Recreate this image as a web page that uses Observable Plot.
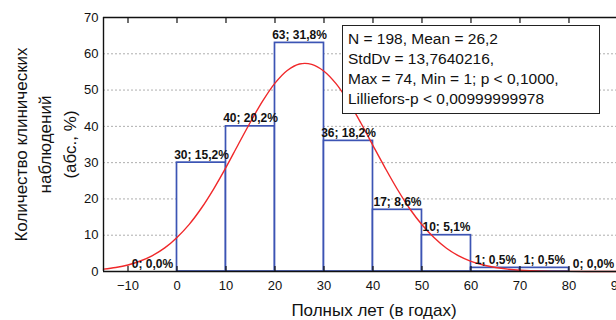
<!DOCTYPE html>
<html>
<head>
<meta charset="utf-8">
<script src="https://cdn.jsdelivr.net/npm/d3@7"></script>
<script src="https://cdn.jsdelivr.net/npm/@observablehq/plot@0.6"></script>
<style>
  html, body { margin: 0; padding: 0; background: #fff; }
  #wrap { position: relative; width: 616px; height: 320px; overflow: hidden; font-family: "Liberation Sans", Arial, sans-serif; }
  #stats { position: absolute; left: 342px; top: 25px; width: 251px; height: 84px; border: 1.5px solid #222; background: #fff;
           font-size: 15.5px; line-height: 20px; padding: 3px 0 0 5px; box-sizing: content-box; color: #111; white-space: nowrap; }
</style>
</head>
<body>
<div id="wrap"></div>
<script>
const binStart = [-10, 0, 10, 20, 30, 40, 50, 60, 70, 80];
const binEnd   = [0, 10, 20, 30, 40, 50, 60, 70, 80, 90];
const counts   = [0, 30, 40, 63, 36, 17, 10, 1, 1, 0];
const barLabels = ["0; 0,0%", "30; 15,2%", "40; 20,2%", "63; 31,8%", "36; 18,2%", "17; 8,6%", "10; 5,1%", "1; 0,5%", "1; 0,5%", "0; 0,0%"];

// fitted normal curve
const curveX = [-15, -12.5, -10, -7.5, -5, -2.5, 0, 2.5, 5, 7.5, 10, 12.5, 15, 17.5, 20, 22.5, 25, 27.5, 30, 32.5, 35, 37.5, 40, 42.5, 45, 47.5, 50, 52.5, 55, 57.5, 60, 62.5, 65, 67.5, 70, 75, 80, 85, 90];
const curveY = [0.65, 1.1, 1.8, 2.9, 4.4, 6.5, 9.4, 13.0, 17.5, 22.8, 28.7, 35.0, 41.2, 47.0, 51.9, 55.4, 57.2, 57.1, 55.2, 51.7, 46.8, 41.0, 34.7, 28.5, 22.6, 17.3, 12.9, 9.3, 6.4, 4.3, 2.8, 1.8, 1.1, 0.64, 0.36, 0.11, 0.03, 0.006, 0.001];

const xTicks = [-10, 0, 10, 20, 30, 40, 50, 60, 70, 80, 90];
const yTicks = [0, 10, 20, 30, 40, 50, 60, 70];
const xTitle = "Полных лет (в годах)";
const yTitle = "Количество клинических\nнаблюдений\n(абс., %)";
const statsLines = ["N = 198, Mean = 26,2", "StdDv = 13,7640216,", "Max = 74, Min = 1; p < 0,1000,", "Lilliefors-p < 0,00999999978"];

const bins = binStart.map((s, i) => ({x1: s, x2: binEnd[i], y: counts[i], label: barLabels[i], xc: (s + binEnd[i]) / 2}));
const curve = curveX.map((x, i) => ({x, y: curveY[i]}));

const chart = Plot.plot({
  width: 616,
  height: 320,
  marginLeft: 103,
  marginRight: 0,
  marginTop: 17,
  marginBottom: 49,
  style: {fontFamily: "Liberation Sans, Arial, sans-serif", fontSize: "13px", color: "#111", background: "#fff"},
  x: {domain: [-15, 89.7], ticks: xTicks},
  y: {domain: [0, 70], ticks: yTicks},
  marks: [
    Plot.gridY(yTicks.slice(1, -1), {stroke: "#999", strokeOpacity: 1, strokeDasharray: "2,2", strokeWidth: 0.8}),
    Plot.rectY(bins.filter(d => d.y > 0), {x1: "x1", x2: "x2", y: "y", fill: "white", stroke: "#3c54b4", strokeWidth: 1.7}),
    Plot.line(curve, {x: "x", y: "y", stroke: "#f0282a", strokeWidth: 1.4, curve: "catmull-rom"}),
    Plot.text(bins, {x: "xc", y: "y", text: "label", dy: -4, lineAnchor: "bottom", fontWeight: "bold", fontSize: 12, fill: "#111"}),
    Plot.ruleY([0], {stroke: "#111", strokeWidth: 1.6}),
    Plot.ruleY([70], {stroke: "#111", strokeWidth: 1.4}),
    Plot.ruleX([-15], {stroke: "#111", strokeWidth: 1.4}),
    Plot.axisX(xTicks, {anchor: "bottom", tickSize: -5, tickPadding: 14, label: null, stroke: "#111", strokeWidth: 1.2, fontSize: 13}),
    Plot.axisX(xTicks, {anchor: "top", tickSize: -5, tickFormat: () => "", label: null, stroke: "#111", strokeWidth: 1.2}),
    Plot.axisY(yTicks, {anchor: "left", tickSize: 0, tickPadding: 5, label: null, fontSize: 13}),
    Plot.text([xTitle], {frameAnchor: "bottom", dy: 39, dx: 14, lineAnchor: "middle", fontSize: 17, fill: "#111"}),
    Plot.text([yTitle], {frameAnchor: "left", dx: -60, rotate: -90, textAnchor: "middle", lineAnchor: "middle", lineHeight: 1.45, fontSize: 17, fill: "#111"})
  ]
});

const wrap = document.getElementById("wrap");
wrap.appendChild(chart);
const box = document.createElement("div");
box.id = "stats";
box.innerHTML = statsLines.map(s => `<div>${s}</div>`).join("");
wrap.appendChild(box);
</script>
</body>
</html>
